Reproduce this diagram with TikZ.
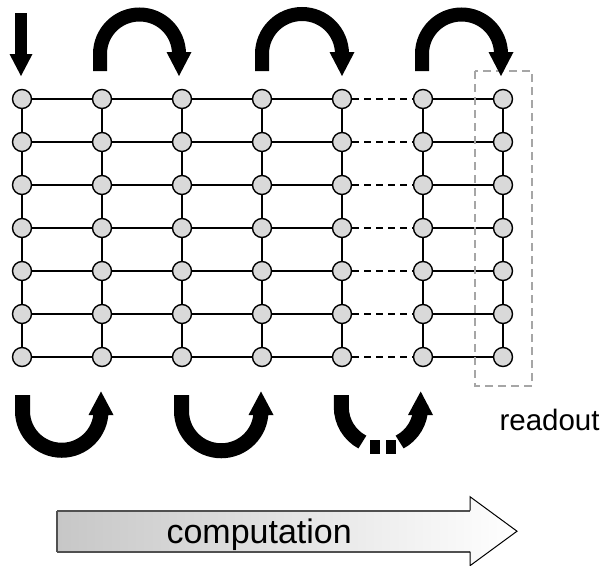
\documentclass[tikz,border=0pt]{standalone}
\usepackage{fontspec}
\setmainfont{Liberation Sans}
\definecolor{nodefill}{RGB}{217,217,217}
\definecolor{boxgray}{RGB}{166,166,166}
\definecolor{edgegray}{RGB}{80,80,80}
\tikzset{
  qnode/.style={circle, draw=black, line width=1.4pt, fill=nodefill, inner sep=0pt, minimum size=19pt},
  gridline/.style={line width=1.3pt, black},
  gapline/.style={dash pattern=on 7pt off 5pt},
  topbody/.style={line width=14pt, black},
  botbody/.style={line width=15pt, black},
  readbox/.style={draw=boxgray, line width=1.5pt, dash pattern=on 8pt off 5pt},
}
\begin{document}
\begin{tikzpicture}[x=1pt, y=-1pt]
\useasboundingbox (0,0) rectangle (604,565);

% nodes
\foreach \c/\x in {1/22,2/102,3/182,4/262,5/342,6/423,7/503}
  \foreach \r in {1,...,7}
    \node[qnode] (n-\c-\r) at (\x, {99+43*(\r-1)}) {};

% horizontal lines
\foreach \r in {1,...,7}
  \foreach \c/\d/\s in {1/2/solid,2/3/solid,3/4/solid,4/5/solid,5/6/gapline,6/7/solid}
    \draw[gridline,\s] (n-\c-\r) -- (n-\d-\r);

% vertical lines
\foreach \c in {1,...,7}
  \foreach \r/\rn in {1/2,2/3,3/4,4/5,5/6,6/7}
    \draw[gridline] (n-\c-\r) -- (n-\c-\rn);

% readout box
\draw[readbox] (475,71) rectangle (532,386);
\node[anchor=base west, font=\fontsize{29.5}{32}\selectfont] (ro) at (496,430) {readout};

% down arrow
\fill (14.5,13) rectangle (26.5,56);
\fill (9.5,54) -- (32.5,54) -- (21,76) -- cycle;

% top U-turn arrows
\draw[topbody] (100,71) -- (100,54) arc[start angle=180, end angle=360, radius=39.5] -- (179,56);
\fill (166.5,52) -- (191.5,52) -- (179,76) -- cycle;
\draw[topbody] (262,71) -- (262,54) arc[start angle=180, end angle=360, radius=40] -- (342,56);
\fill (329.5,52) -- (354.5,52) -- (342,76) -- cycle;
\draw[topbody] (422,71) -- (422,54) arc[start angle=180, end angle=360, radius=39.5] -- (501,56);
\fill (488.5,52) -- (513.5,52) -- (501,76) -- cycle;

% bottom U-turn arrows
\draw[botbody] (22.5,395) -- (22.5,411) arc[start angle=180, end angle=0, radius=39.25] -- (101,409);
\fill (88.5,415) -- (113.5,415) -- (101,391.5) -- cycle;
\draw[botbody] (181.5,395) -- (181.5,411) arc[start angle=180, end angle=0, radius=39.75] -- (261,409);
\fill (248.5,415) -- (273.5,415) -- (261,391.5) -- cycle;
% third, interrupted by dots
\draw[botbody] (341.3,395) -- (341.3,407) arc[start angle=180, end angle=118, radius=39.7];
\draw[botbody] (399.64,442.05) arc[start angle=62, end angle=0, radius=39.7] -- (420.7,405);
\fill (408,415) -- (433,415) -- (420.7,391.5) -- cycle;
\fill (370,440) rectangle (380,453.5);
\fill (385.5,440) rectangle (395.5,453.5);

% computation arrow
\shade[left color=black!22, right color=white]
  (57,510.7) -- (470,510.7) -- (470,496.7) -- (517,531.2) -- (470,565.7) -- (470,551.7) -- (57,551.7) -- cycle;
\draw[edgegray, line width=1.6pt] (57,510.7) -- (470,510.7);
\draw[edgegray, line width=1.6pt] (57,551.7) -- (470,551.7);
\draw[edgegray, line width=1.2pt] (57,510.7) -- (57,551.7);
\draw[black, line width=1pt] (470,510.7) -- (470,496.7) -- (517,531.2) -- (470,565.7) -- (470,551.7);
\node[anchor=base west, font=\fontsize{34}{37}\selectfont] (comp) at (163,543) {computation};
\end{tikzpicture}
\end{document}
